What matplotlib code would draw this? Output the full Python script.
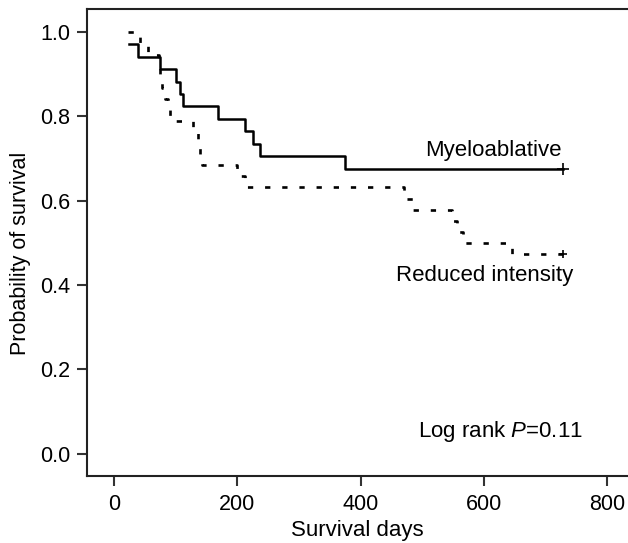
import matplotlib
matplotlib.use('agg')
from matplotlib import pyplot as plt

plt.rcParams['font.family'] = ['Liberation Sans', 'DejaVu Sans']
plt.rcParams['mathtext.fontset'] = 'custom'
plt.rcParams['mathtext.rm'] = 'Liberation Sans'
plt.rcParams['mathtext.it'] = 'Liberation Sans:italic'

# Kaplan-Meier steps (days, survival probability)
mac_days = [24, 38, 74, 101, 107, 112, 169, 212, 226, 237, 375, 729]
mac_surv = [0.971, 0.941, 0.912, 0.882, 0.853, 0.824, 0.794, 0.765, 0.735, 0.706, 0.676, 0.676]

ric_days = [23, 42, 55, 73, 74, 77, 82, 88, 90, 128, 136, 140, 142, 199, 213,
            470, 485, 548, 556, 566, 645, 729]
ric_surv = [1.0, 0.974, 0.947, 0.921, 0.895, 0.868, 0.842, 0.816, 0.789, 0.763, 0.737,
            0.711, 0.684, 0.658, 0.632, 0.605, 0.579, 0.553, 0.526, 0.500, 0.474, 0.474]

x_ticks = [0, 200, 400, 600, 800]
y_ticks = [0.0, 0.2, 0.4, 0.6, 0.8, 1.0]

fs = 16

fig = plt.figure(figsize=(6.28, 5.43), dpi=100)
ax = fig.add_axes([87 / 628, 67 / 543, 541 / 628, 467 / 543])

ax.step(mac_days, mac_surv, where='post', color='black', linewidth=1.8)
ax.plot(mac_days[-1], mac_surv[-1], marker='+', color='black', markersize=8, markeredgewidth=1.2)

ax.step(ric_days, ric_surv, where='post', color='black', linewidth=1.9,
        linestyle=(0, (2.0, 4.5)))
ax.plot(ric_days[-1], ric_surv[-1], marker='+', color='black', markersize=6, markeredgewidth=1.2)

ax.set_xlim(-44, 834)
ax.set_ylim(-0.053, 1.055)
ax.set_xticks(x_ticks)
ax.set_yticks(y_ticks)
ax.set_xticklabels([str(t) for t in x_ticks])
ax.set_yticklabels([f'{t:.1f}' for t in y_ticks])

for side in ['left', 'top', 'bottom']:
    ax.spines[side].set_linewidth(1.5)
    ax.spines[side].set_color('#222222')
ax.spines['right'].set_visible(False)

ax.tick_params(axis='both', direction='out', length=7, width=1.5, color='#333333',
               labelsize=fs - 0.5, pad=5)
ax.tick_params(axis='x', pad=6)

ax.set_xlabel('Survival days', fontsize=fs)
ax.set_ylabel('Probability of survival', fontsize=fs - 0.5)
ax.yaxis.set_label_coords(-0.103, 0.477)
ax.xaxis.set_label_coords(0.5, -0.094)

ax.text(727, 0.706, 'Myeloablative', ha='right', va='baseline', fontsize=fs)
ax.text(745, 0.4095, 'Reduced intensity', ha='right', va='baseline', fontsize=fs)
ax.text(493, 0.039, r'Log rank $\mathit{P}$=0.11', ha='left', va='baseline', fontsize=fs)

plt.savefig('out.png', dpi=100, facecolor='white')
